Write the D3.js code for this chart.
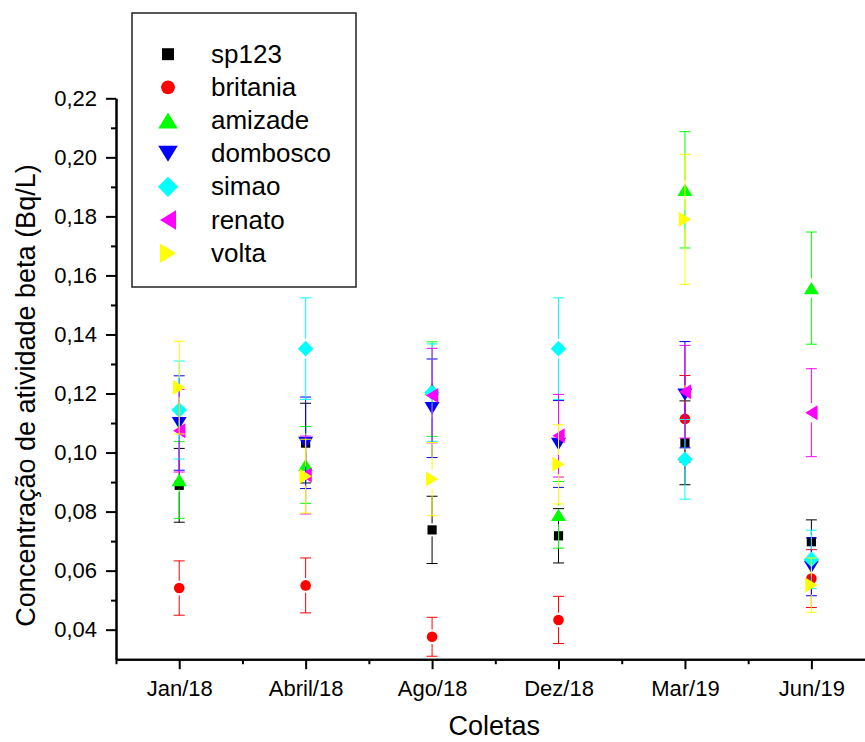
<!DOCTYPE html>
<html>
<head>
<meta charset="utf-8">
<script src="https://cdn.jsdelivr.net/npm/d3@7"></script>
<style>
  body { margin: 0; background: #fff; }
  text { font-family: "Liberation Sans", Arial, sans-serif; fill: #000; }
</style>
</head>
<body>
<svg id="chart" width="865" height="742"></svg>
<script>
// collection dates (x axis)
const categories = ["Jan/18", "Abril/18", "Ago/18", "Dez/18", "Mar/19", "Jun/19"];

// series names, in legend order
const seriesNames = ["sp123", "britania", "amizade", "dombosco", "simao", "renato", "volta"];

// mean beta activity (Bq/L), one value per collection
const sp123    = [0.0889, 0.1032, 0.0738, 0.0718, 0.1033, 0.0698];
const britania = [0.0541, 0.0550, 0.0376, 0.0433, 0.1114, 0.0573];
const amizade  = [0.0907, 0.0958, 0.1215, 0.0789, 0.1890, 0.1557];
const dombosco = [0.1100, 0.1033, 0.1150, 0.1029, 0.1196, 0.0613];
const simao    = [0.1144, 0.1352, 0.1203, 0.1352, 0.0977, 0.0638];
const renato   = [0.1074, 0.0924, 0.1193, 0.1057, 0.1206, 0.1135];
const volta    = [0.1220, 0.0920, 0.0910, 0.0960, 0.1790, 0.0551];

// error bars (+/-)
const sp123Err    = [0.0125, 0.0135, 0.0114, 0.0092, 0.0142, 0.0074];
const britaniaErr = [0.0092, 0.0093, 0.0066, 0.0080, 0.0147, 0.0098];
const amizadeErr  = [0.0130, 0.0130, 0.0160, 0.0113, 0.0197, 0.0190];
const domboscoErr = [0.0160, 0.0155, 0.0167, 0.0147, 0.0180, 0.0098];
const simaoErr    = [0.0166, 0.0172, 0.0165, 0.0172, 0.0135, 0.0099];
const renatoErr   = [0.0140, 0.0132, 0.0160, 0.0140, 0.0157, 0.0149];
const voltaErr    = [0.0157, 0.0125, 0.0124, 0.0134, 0.0220, 0.0092];

// y axis ticks
const yMajorTicks = [0.04, 0.06, 0.08, 0.10, 0.12, 0.14, 0.16, 0.18, 0.20, 0.22];
const yMinorTicks = [0.05, 0.07, 0.09, 0.11, 0.13, 0.15, 0.17, 0.19, 0.21];

const seriesValues = [sp123, britania, amizade, dombosco, simao, renato, volta];
const seriesErrors = [sp123Err, britaniaErr, amizadeErr, domboscoErr, simaoErr, renatoErr, voltaErr];

// marker look for each series
const colors = ["#000000", "#ff0000", "#00ff00", "#0000ff", "#00ffff", "#ff00ff", "#ffff00"];
const shapes = ["square", "circle", "up", "down", "diamond", "left", "right"];
const shapeRadius = { square: 4.6, circle: 5.3, up: 7.5, down: 7.5, diamond: 7.8, left: 7.5, right: 7.5 };
const legendScale = 1.3;

const svg = d3.select("#chart");

const x = d3.scaleLinear().domain([-0.5, 5.5]).range([116, 874.6]);
const y = d3.scaleLinear().domain([0.03, 0.22]).range([659.2, 98.3]);

const locale = d3.formatLocale({ decimal: ",", thousands: ".", grouping: [3], currency: ["", ""] });
const fmt = locale.format(".2f");

// internal: path of a marker centred on (0,0), r = half extent
const markerPath = function(shape, r) {
  const p = d3.path();
  const h = r * 0.82; // half height of the triangles (flatter than equilateral)
  switch (shape) {
    case "square": p.rect(-r, -r, 2 * r, 2 * r); break;
    case "circle": p.arc(0, 0, r, 0, 2 * Math.PI); break;
    case "up":    p.moveTo(0, -h); p.lineTo(r, h); p.lineTo(-r, h); p.closePath(); break;
    case "down":  p.moveTo(0, h); p.lineTo(r, -h); p.lineTo(-r, -h); p.closePath(); break;
    case "left":  p.moveTo(-h, 0); p.lineTo(h, -r); p.lineTo(h, r); p.closePath(); break;
    case "right": p.moveTo(h, 0); p.lineTo(-h, -r); p.lineTo(-h, r); p.closePath(); break;
    case "diamond": p.moveTo(0, -r); p.lineTo(r, 0); p.lineTo(0, r); p.lineTo(-r, 0); p.closePath(); break;
  }
  return p.toString();
};

// ---- axes ----
const axisStyle = function(g) {
  g.select(".domain").attr("stroke", "#000").attr("stroke-width", 2);
  g.selectAll(".tick line").attr("stroke", "#000").attr("stroke-width", 2);
  g.selectAll(".tick text").style("font-size", "22px").attr("fill", "#000");
};

svg.append("g")
  .attr("transform", `translate(0,${y.range()[0]})`)
  .call(d3.axisBottom(x).tickValues(d3.range(-0.5, 6, 1)).tickSize(5).tickSizeOuter(0).tickFormat(""))
  .call(axisStyle);

svg.append("g")
  .attr("transform", `translate(0,${y.range()[0]})`)
  .call(d3.axisBottom(x).tickValues(d3.range(categories.length)).tickSize(10).tickSizeOuter(0)
        .tickPadding(11).tickFormat(i => categories[i]))
  .call(axisStyle);

svg.append("g")
  .attr("transform", `translate(${x.range()[0]},0)`)
  .call(d3.axisLeft(y).tickValues(yMinorTicks).tickSize(5).tickSizeOuter(0).tickFormat(""))
  .call(axisStyle);

svg.append("g")
  .attr("transform", `translate(${x.range()[0]},0)`)
  .call(d3.axisLeft(y).tickValues(yMajorTicks).tickSize(10).tickSizeOuter(0).tickPadding(9).tickFormat(fmt))
  .call(axisStyle);

// axis titles
svg.append("text")
  .attr("x", (x.range()[0] + 874.6) / 2 - 1)
  .attr("y", 735)
  .attr("text-anchor", "middle")
  .style("font-size", "27px")
  .text("Coletas");

svg.append("text")
  .attr("transform", "translate(35,395.5) rotate(-90)")
  .attr("text-anchor", "middle")
  .style("font-size", "27px")
  .text("Concentração de atividade beta (Bq/L)");

// ---- series: error bars then markers, series by series ----
const capHalf = 5.5;
seriesNames.forEach((name, s) => {
  const r = shapeRadius[shapes[s]];
  const data = seriesValues[s].map((v, i) => ({ i, v, e: seriesErrors[s][i] }));
  const g = svg.append("g").attr("class", `series ${name}`);

  const bars = g.selectAll("g.err").data(data).join("g").attr("class", "err")
    .attr("stroke", colors[s]).attr("stroke-width", 1).attr("fill", "none");

  bars.each(function(d) {
    const cx = x(d.i);
    const cy = y(d.v);
    const yTop = y(d.v + d.e);
    const yBot = y(d.v - d.e);
    const gap = r + 2;
    const el = d3.select(this);
    // caps
    el.append("line").attr("x1", cx - capHalf).attr("x2", cx + capHalf).attr("y1", yTop).attr("y2", yTop);
    el.append("line").attr("x1", cx - capHalf).attr("x2", cx + capHalf).attr("y1", yBot).attr("y2", yBot);
    // stems, leaving a small gap round the marker
    if (cy - gap > yTop) el.append("line").attr("x1", cx).attr("x2", cx).attr("y1", yTop).attr("y2", cy - gap);
    if (cy + gap < yBot) el.append("line").attr("x1", cx).attr("x2", cx).attr("y1", cy + gap).attr("y2", yBot);
  });

  g.selectAll("path.marker").data(data).join("path").attr("class", "marker")
    .attr("transform", d => `translate(${x(d.i)},${y(d.v)})`)
    .attr("d", markerPath(shapes[s], r))
    .attr("fill", colors[s]);
});

// ---- legend ----
const legend = svg.append("g").attr("class", "legend");
legend.append("rect")
  .attr("x", 132).attr("y", 13).attr("width", 224).attr("height", 274)
  .attr("fill", "#fff").attr("stroke", "#222").attr("stroke-width", 1.5);

const rowY = d3.scaleLinear().domain([0, seriesNames.length - 1]).range([62.7, 261.7]);
const rows = legend.selectAll("g.row").data(seriesNames).join("g").attr("class", "row")
  .attr("transform", (d, i) => `translate(0,${rowY(i)})`);

rows.append("path")
  .attr("transform", "translate(168,-8.5)")
  .attr("d", (d, i) => markerPath(shapes[i], shapeRadius[shapes[i]] * legendScale))
  .attr("fill", (d, i) => colors[i]);

rows.append("text")
  .attr("x", 211)
  .style("font-size", "26px")
  .text(d => d);
</script>
</body>
</html>
